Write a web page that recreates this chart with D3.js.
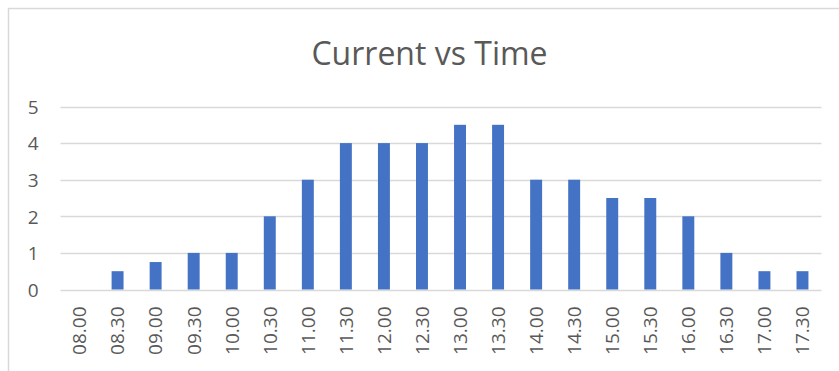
<!DOCTYPE html>
<html>
<head>
<meta charset="utf-8">
<script src="https://cdn.jsdelivr.net/npm/d3@7"></script>
<style>
  html, body { margin: 0; padding: 0; background: #ffffff; }
  svg { display: block; font-family: "Open Sans", sans-serif; }
</style>
</head>
<body>
<svg id="chart" width="839" height="371"></svg>
<script>
const categories = ["08.00","08.30","09.00","09.30","10.00","10.30","11.00","11.30","12.00","12.30",
                    "13.00","13.30","14.00","14.30","15.00","15.30","16.00","16.30","17.00","17.30"];
const currentValues = [0, 0.5, 0.75, 1, 1, 2, 3, 4, 4, 4, 4.5, 4.5, 3, 3, 2.5, 2.5, 2, 1, 0.5, 0.5];
const yTicks = [0, 1, 2, 3, 4, 5];
const titleText = "Current vs Time";

const svg = d3.select("#chart");
const W = 839, H = 371;
const plot = { left: 60.5, right: 821.5, top: 106.5, bottom: 289.5 };

// chart area border (cropped at right/bottom)
svg.append("rect")
  .attr("x", 8.5).attr("y", 8.5)
  .attr("width", W + 20).attr("height", H + 20)
  .attr("fill", "#fff").attr("stroke", "#d9d9d9").attr("stroke-width", 1.5);

const x = d3.scaleBand()
  .domain(categories)
  .range([plot.left, plot.right])
  .paddingInner(0.686)
  .paddingOuter(0.343);

const y = d3.scaleLinear().domain([0, 5]).range([plot.bottom, plot.top]);

// gridlines
svg.append("g")
  .selectAll("line")
  .data(yTicks)
  .join("line")
  .attr("x1", plot.left).attr("x2", plot.right)
  .attr("y1", d => Math.round(y(d)) + 0.5).attr("y2", d => Math.round(y(d)) + 0.5)
  .attr("stroke", "#d9d9d9").attr("stroke-width", 1.5);

// bars
svg.append("g")
  .selectAll("rect")
  .data(currentValues.map((v, i) => ({ c: categories[i], v })))
  .join("rect")
  .attr("x", d => x(d.c))
  .attr("width", x.bandwidth())
  .attr("y", d => y(d.v))
  .attr("height", d => y(0) - y(d.v))
  .attr("fill", "#4472c4");

// y axis labels
const yAxis = d3.axisLeft(y).tickValues(yTicks).tickSize(0).tickPadding(0).tickFormat(d3.format("d"));
const gy = svg.append("g").attr("transform", `translate(38.5,0)`).call(yAxis);
gy.select(".domain").remove();
gy.selectAll("text")
  .attr("font-family", "Open Sans")
  .attr("font-size", 19)
  .attr("fill", "#595959")
  .attr("dy", "0.36em");

// x axis labels
const xAxis = d3.axisBottom(x).tickSize(0).tickPadding(0);
const gx = svg.append("g").attr("transform", `translate(0,${plot.bottom})`).call(xAxis);
gx.select(".domain").remove();
gx.selectAll("text")
  .attr("font-family", "Open Sans")
  .attr("font-size", 19)
  .attr("fill", "#595959")
  .attr("text-anchor", "end")
  .attr("transform", "translate(0,17) rotate(-90)")
  .attr("x", 0).attr("y", 0)
  .attr("dy", "0.36em");

// title
svg.append("text")
  .attr("x", 429.5).attr("y", 65)
  .attr("text-anchor", "middle")
  .attr("font-family", "Open Sans")
  .attr("font-size", 32)
  .attr("fill", "#595959")
  .text(titleText);
</script>
</body>
</html>
